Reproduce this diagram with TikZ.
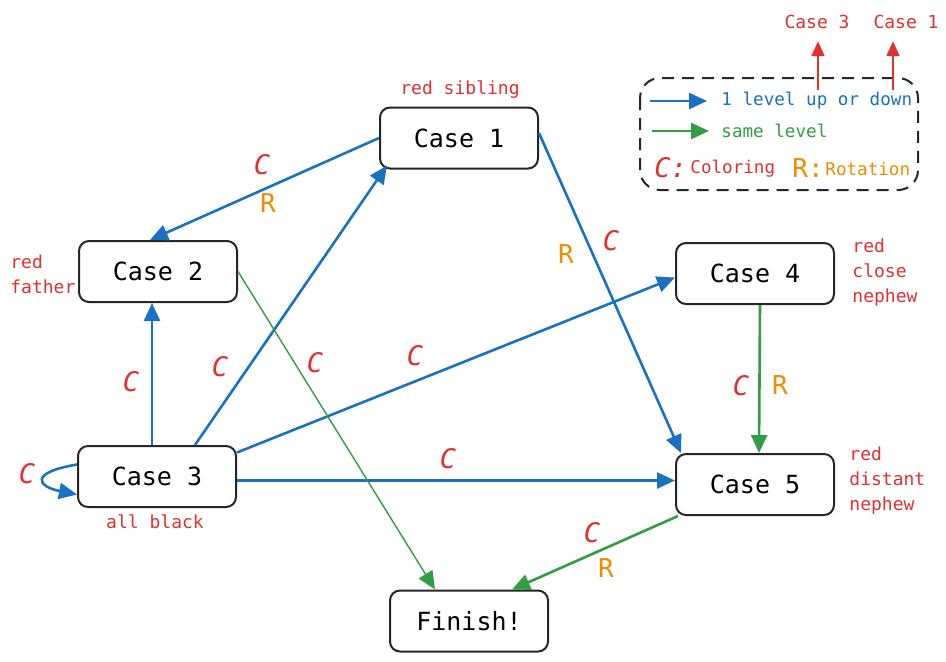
\documentclass[tikz,border=0pt]{standalone}
\usepackage{fontspec}
\setmainfont{DejaVu Sans Mono}
\usetikzlibrary{arrows.meta,positioning}
\definecolor{exblue}{HTML}{1971C2}
\definecolor{exgreen}{HTML}{2F9E44}
\definecolor{exred}{HTML}{E03131}
\definecolor{exorange}{HTML}{F08C00}
\begin{document}
\begin{tikzpicture}[x=0.5pt,y=-0.5pt,box/.style={draw=black!85,line width=1pt,rounded corners=5pt,minimum width=79pt,minimum height=30.5pt,inner sep=2pt,font=\fontsize{12.5}{14}\selectfont},note/.style={text=exred,font=\fontsize{9}{12.5}\selectfont,inner sep=0pt,align=left},cl/.style={text=exred,inner sep=0pt,font=\fontsize{13.5}{15}\selectfont\itshape},rl/.style={text=exorange,inner sep=0pt,font=\fontsize{13}{15}\selectfont},uparr/.style={-{Triangle[length=9pt,width=8pt]},exblue,line width=1.3pt},samearr/.style={-{Triangle[length=9pt,width=8pt]},exgreen,line width=1.3pt},redarr/.style={-{Triangle[length=7.5pt,width=6.5pt]},exred,line width=1pt}]
\path[use as bounding box,fill=white] (0,0) rectangle (946,661);
\node[box] (c1) at (459,138) {Case 1};
\node[box] (c2) at (158,271.5) {Case 2};
\node[box,below=71pt of c2,xshift=-0.5pt] (c3) {Case 3};
\node[box] (c4) at (755,273.5) {Case 4};
\node[box,below=74pt of c4] (c5) {Case 5};
\node[box] (fin) at (469,621) {Finish!};
\node[note] (n1) at (460,90) {red sibling};
\node[note,anchor=west] (n2) at (10,274) {red\\father};
\node[note] (n3) at (155,522) {all black};
\node[note,anchor=west] (n4) at (852,273) {red\\close\\nephew};
\node[note,anchor=west] (n5) at (849,481) {red\\distant\\nephew};
\draw[uparr] (c1.west)--([xshift=-4pt]c2.north);
\draw[uparr] ([xshift=19pt]c3.north)--([xshift=4pt,yshift=2pt]c1.south west);
\draw[uparr] ([xshift=-2.5pt]c3.north)--([xshift=-3pt]c2.south);
\draw[uparr] ([yshift=6pt]c3.west) .. controls +(-24pt,-4pt) and +(-20pt,4pt) .. ([yshift=-9pt]c3.west);
\draw[uparr] ([yshift=12pt]c3.east)--([yshift=-2pt]c4.west);
\draw[uparr] ([yshift=-2pt]c3.east)--([yshift=2pt]c5.west);
\draw[samearr,line width=0.7pt] (c2.east)--([xshift=-17pt]fin.north);
\draw[uparr] ([yshift=2.5pt]c1.east)--([xshift=3pt]c5.north west);
\draw[samearr] ([xshift=2.5pt]c4.south)--([xshift=2pt]c5.north);
\draw[samearr] ([xshift=1.5pt]c5.south west)--([xshift=21.5pt]fin.north);
\node[cl] (l1) at (262,165) {C};\node[rl] (l2) at (268,203) {R};
\node[cl] (l3) at (220,367) {C};
\node[cl] (l4) at (131,382) {C};
\node[cl] (l5) at (27,474) {C};
\node[cl] (l6) at (415,356) {C};
\node[cl] (l7) at (448,459) {C};
\node[cl] (l8) at (315,363) {C};
\node[rl] (l9) at (566,254) {R};\node[cl] (l10) at (611,241) {C};
\node[cl] (l11) at (741,386) {C};\node[rl] (l12) at (780,385) {R};
\node[cl] (l13) at (592,533) {C};\node[rl] (l14) at (606,568) {R};
\draw[black!85,line width=1pt,dash pattern=on 6pt off 4pt,rounded corners=10pt] (640,78) rectangle (918,190);
\coordinate (lgb) at (650,101);\coordinate (lgg) at (652,131);
\node[note,text=exblue,anchor=west,font=\fontsize{8.8}{12}\selectfont] (lgup) at (721,101) {1 level up or down};
\node[note,text=exgreen,anchor=west,font=\fontsize{8.8}{12}\selectfont] (lgsame) at (721,131) {same level};
\draw[uparr,shorten >=7pt] (lgb)--(lgup.west);
\draw[samearr,shorten >=6pt] (lgg)--(lgsame.west);
\node[cl,anchor=west] (lgc) at (654,168) {C:};
\node[note,anchor=west,font=\fontsize{8.8}{12}\selectfont] (lgcol) at (690,169) {Coloring};
\node[rl,anchor=west] (lgr) at (792,168) {R:};
\node[note,text=exorange,anchor=west,font=\fontsize{8.8}{12}\selectfont] (lgrot) at (825,169) {Rotation};
\node[note] (tc3) at (817,22) {Case 3};
\node[note] (tc1) at (906,22) {Case 1};
\coordinate (upmk) at (818,90);\coordinate (dnmk) at (893,90);
\draw[redarr,shorten >=6pt] (upmk)--(upmk|-tc3.south);
\draw[redarr,shorten >=6pt] (dnmk)--(dnmk|-tc1.south);
\end{tikzpicture}
\end{document}
